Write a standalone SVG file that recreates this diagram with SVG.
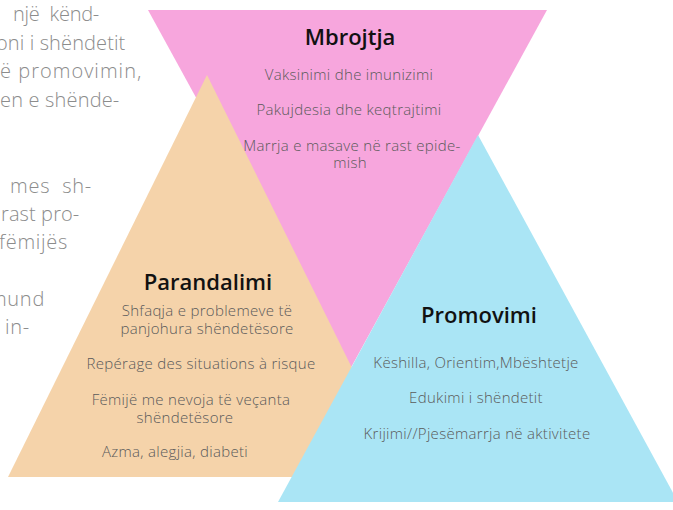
<svg xmlns="http://www.w3.org/2000/svg" width="673" height="510" viewBox="0 0 673 510">
<style>
.side{font-family:"Open Sans","Liberation Sans",sans-serif;font-weight:300;font-size:20px;letter-spacing:0.7px;fill:#8c8c8c}
.title{font-family:"Open Sans","Liberation Sans",sans-serif;font-weight:600;font-size:22px;fill:#111;text-anchor:middle}
.item{font-family:"Open Sans","Liberation Sans",sans-serif;font-weight:300;font-size:15px;letter-spacing:0.3px;fill:#5a5a5a;text-anchor:middle}
</style>
<rect width="673" height="510" fill="#fff"/>
<g id="side-text">
<text class="side" x="13" y="21" textLength="87" lengthAdjust="spacing" xml:space="preserve">një  kënd-</text>
<text class="side" x="-4" y="49.5" textLength="130" lengthAdjust="spacing">oni i shëndetit</text>
<text class="side" x="0" y="78" textLength="142" lengthAdjust="spacing">ë promovimin,</text>
<text class="side" x="0" y="106.5" textLength="120" lengthAdjust="spacing">en e shënde-</text>
<text class="side" x="10" y="193" textLength="82" lengthAdjust="spacing" xml:space="preserve">mes  sh-</text>
<text class="side" x="1" y="221" textLength="79" lengthAdjust="spacing">rast pro-</text>
<text class="side" x="-1" y="249">fëmijës</text>
<text class="side" x="-11" y="306">mund</text>
<text class="side" x="5" y="334">in-</text>
</g>
<g id="mbrojtja">
<polygon points="148,10 547,10 347.5,374" fill="#f7a6dd"/>
</g>
<g id="parandalimi">
<polygon points="207,75 8,477 406,477" fill="#f5d3aa"/>
</g>
<g id="promovimi">
<polygon points="478,135 278,502 678,502" fill="#aae5f5"/>
</g>
<g id="connectors"></g>
<g id="mbrojtja-text">
<text class="title" x="350" y="45">Mbrojtja</text>
<text class="item" x="349" y="80">Vaksinimi dhe imunizimi</text>
<text class="item" x="349" y="115">Pakujdesia dhe keqtrajtimi</text>
<text class="item" y="151"><tspan x="352">Marrja e masave në rast epide-</tspan><tspan x="350" dy="17">mish</tspan></text>
</g>
<g id="parandalimi-text">
<text class="title" x="208" y="290">Parandalimi</text>
<text class="item" y="316"><tspan x="207">Shfaqja e problemeve të</tspan><tspan x="207" dy="18">panjohura shëndetësore</tspan></text>
<text class="item" x="201" y="369">Repérage des situations à risque</text>
<text class="item" y="405"><tspan x="191">Fëmijë me nevoja të veçanta</tspan><tspan x="185" dy="17.5">shëndetësore</tspan></text>
<text class="item" x="175" y="457">Azma, alegjia, diabeti</text>
</g>
<g id="promovimi-text">
<text class="title" x="479" y="323">Promovimi</text>
<text class="item" x="476" y="368">Këshilla, Orientim,Mbështetje</text>
<text class="item" x="476" y="403">Edukimi i shëndetit</text>
<text class="item" x="477" y="439">Krijimi//Pjesëmarrja në aktivitete</text>
</g>
</svg>
